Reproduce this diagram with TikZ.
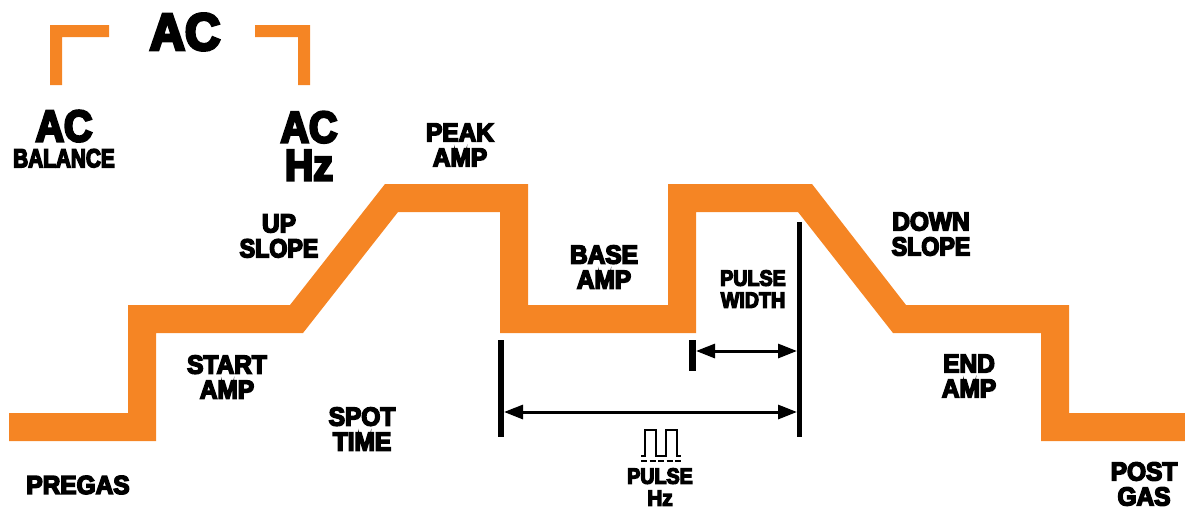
\documentclass[tikz,border=0pt]{standalone}
\usepackage{fontspec}
\setmainfont[FakeBold=6,FakeStretch=0.94]{Liberation Sans Bold}
\usetikzlibrary{arrows.meta}
\definecolor{weldorange}{HTML}{F58524}
\tikzset{
  x=1pt,y=-1pt,
  lab/.style={inner sep=0pt,align=center,text=black,font=\fontsize{26}{25}\selectfont},
  labsmall/.style={lab,font=\fontsize{22}{22}\selectfont},
  labbig/.style={lab,font=\fontsize{44}{38}\selectfont},
  labhuge/.style={lab,font=\fontsize{52}{50}\selectfont},
  band/.style={fill=weldorange,draw=none},
  bar/.style={fill=black,draw=none},
  dim/.style={draw=black,line width=3pt,{Triangle[length=19pt,width=14pt]}-{Triangle[length=19pt,width=14pt]},shorten <=0pt,shorten >=0pt},
  pulseline/.style={draw=black,line width=2.4pt},
}
\begin{document}
\begin{tikzpicture}
\useasboundingbox (0,0) rectangle (1185,509);
% main weld-current band
\fill[band] (9,413)--(128,413)--(128,305)--(290,305)--(385,184)--(528,184)--(528,305)--(668,305)--(668,184)--(812,184)--(906,305)--(1069,305)--(1069,413)--(1185,413)--(1185,441)--(1041,441)--(1041,333)--(893,333)--(798,212)--(696,212)--(696,333)--(500,333)--(500,212)--(398,212)--(303,333)--(156,333)--(156,441)--(9,441)--cycle;
% AC brackets
\fill[band] (50,85)--(50,25)--(109,25)--(109,37)--(62,37)--(62,85)--cycle;
\fill[band] (255,25)--(310,25)--(310,85)--(298,85)--(298,37)--(255,37)--cycle;
% bars
\fill[bar] (498,340) rectangle (504,437);
\fill[bar] (797,222) rectangle (802,437);
\fill[bar] (689,340) rectangle (696,371);
% dimension arrows
\coordinate (wl) at (696,351);
\coordinate (wr) at (797,351);
\coordinate (hl) at (504,412);
\coordinate (hr) at (797,412);
\draw[dim] (wl) -- (wr);
\draw[dim] (hl) -- (hr);
% pulse icon
\draw[pulseline] (641,456)--(645,456)--(645,430)--(656,430)--(656,456)--(666,456)--(666,430)--(677,430)--(677,456)--(681,456);
\draw[pulseline,dash pattern=on 6pt off 2.5pt] (641,461)--(681,461);
% labels
\node[labhuge] (ac) at (185,32) {AC};
\node[lab,font=\fontsize{26}{26}\selectfont] (acb) at (64,139) {{\fontsize{44}{26}\selectfont\scalebox{0.95}[1]{AC}}\\\scalebox{0.85}[1]{BALANCE}};
\node[labbig] (ach) at (309,146) {\scalebox{0.95}[1]{AC}\\\scalebox{0.95}[1]{Hz}};
\node[lab] (peak) at (460,145) {PEAK\\AMP};
\node[lab] (up) at (279,236) {UP\\\scalebox{0.95}[1]{SLOPE}};
\node[lab] (base) at (604,267) {BASE\\AMP};
\node[labsmall] (pw) at (753,289) {\scalebox{0.95}[1]{PULSE}\\\scalebox{0.95}[1]{WIDTH}};
\node[lab] (down) at (931,234) {DOWN\\\scalebox{0.95}[1]{SLOPE}};
\node[lab] (start) at (227,377) {START\\AMP};
\node[lab] (spot) at (362,429) {SPOT\\TIME};
\node[lab] (end) at (969,376) {END\\AMP};
\node[lab] (pre) at (78,485) {PREGAS};
\node[labsmall] (ph) at (660,487) {\scalebox{0.95}[1]{PULSE}\\Hz};
\node[lab] (post) at (1144,484) {POST\\GAS};
\end{tikzpicture}
\end{document}
